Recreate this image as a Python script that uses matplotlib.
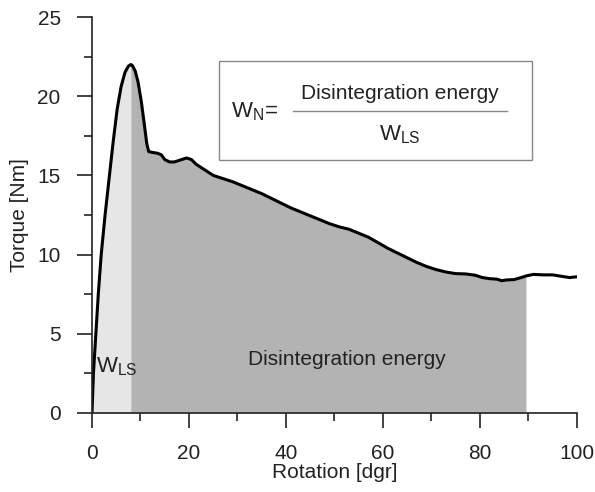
import numpy as np
import matplotlib.pyplot as plt
from matplotlib.ticker import MultipleLocator

plt.rcParams['font.family'] = ['Liberation Sans', 'DejaVu Sans']
plt.rcParams['mathtext.fontset'] = 'custom'
plt.rcParams['mathtext.rm'] = 'Liberation Sans'
plt.rcParams['mathtext.it'] = 'Liberation Sans'

rotation = np.array([0.0, 0.3, 0.8, 1.3, 1.9, 2.7, 3.6, 4.4, 5.2, 6.0, 6.8, 7.5, 8.0, 8.3,
                     8.9, 9.5, 10.2, 10.8, 11.3, 11.7, 12.5, 13.5, 14.3, 15.0, 16.0, 17.0,
                     18.0, 19.5, 20.5, 21.5, 23, 25, 27, 29, 31, 33, 35, 37, 39, 41, 43, 45,
                     47, 49, 51, 53, 55, 57, 59, 61, 63, 65, 67, 69, 71, 73, 75, 77, 79,
                     80.5, 82, 83.5, 84.5, 85.5, 87, 88.5, 89.5, 91, 93, 95, 97, 98.5, 100])
torque = np.array([0.0, 2.5, 5.0, 7.5, 10.0, 12.5, 15.0, 17.2, 19.2, 20.6, 21.5, 21.9, 22.0,
                   21.95, 21.6, 20.9, 19.6, 18.2, 17.0, 16.5, 16.45, 16.4, 16.3, 16.0, 15.85,
                   15.85, 15.95, 16.1, 16.0, 15.7, 15.4, 15.0, 14.8, 14.6, 14.35, 14.1, 13.85,
                   13.55, 13.25, 12.95, 12.7, 12.45, 12.2, 11.95, 11.75, 11.6, 11.35, 11.1,
                   10.75, 10.4, 10.1, 9.8, 9.5, 9.25, 9.05, 8.9, 8.8, 8.78, 8.7, 8.55, 8.48,
                   8.45, 8.35, 8.4, 8.42, 8.55, 8.65, 8.75, 8.72, 8.72, 8.62, 8.55, 8.6])

x_ls = 8.0     # end of W_LS region
x_end = 89.5   # end of disintegration energy region

fig = plt.figure(figsize=(5.95, 4.92), dpi=100)
ax = fig.add_axes([0.1546, 0.1606, 0.815, 0.8048])

m1 = rotation <= x_ls
m2 = (rotation >= x_ls) & (rotation <= x_end)
ax.fill_between(rotation[m1], torque[m1], color='#e6e6e6', lw=0)
ax.fill_between(rotation[m2], torque[m2], color='#b3b3b3', lw=0)
ax.plot(rotation, torque, color='black', lw=2.2, solid_joinstyle='round')

ax.set_xlim(0, 100)
ax.set_ylim(0, 25)
ax.xaxis.set_major_locator(MultipleLocator(20))
ax.xaxis.set_minor_locator(MultipleLocator(10))
ax.yaxis.set_major_locator(MultipleLocator(5))
ax.yaxis.set_minor_locator(MultipleLocator(2.5))
ax.tick_params(which='major', length=10.5, width=1.2, labelsize=15, color='#222222',
               labelcolor='#222222', pad=12)
ax.tick_params(which='minor', length=6, width=1.2, color='#222222')
ax.spines['top'].set_visible(False)
ax.spines['right'].set_visible(False)
for s in ['left', 'bottom']:
    ax.spines[s].set_linewidth(1.2)
    ax.spines[s].set_color('#222222')

ax.set_xlabel('Rotation [dgr]', fontsize=15, labelpad=0, color='#222222')
ax.set_ylabel('Torque [Nm]', fontsize=15, labelpad=6, color='#222222')

ax.text(0.8, 2.9, r'$\mathrm{W}_{\mathrm{LS}}$', fontsize=16, va='center', ha='left', color='#222222')
ax.text(52.5, 3.4, 'Disintegration energy', fontsize=15, va='center', ha='center', color='#222222')

# formula box
ax.add_patch(plt.Rectangle((26.2, 16.0), 64.5, 6.2, fill=False, ec='#888888', lw=1.0))
ax.text(28.6, 19.0, r'$\mathrm{W}_{\mathrm{N}}\!=$', fontsize=16, va='center', ha='left', color='#222222')
ax.plot([41.5, 85.5], [19.05, 19.05], color='#888888', lw=1.0)
ax.text(63.5, 20.2, 'Disintegration energy', fontsize=15, va='center', ha='center', color='#222222')
ax.text(63.5, 17.6, r'$\mathrm{W}_{\mathrm{LS}}$', fontsize=16, va='center', ha='center', color='#222222')

fig.savefig('out.png', dpi=100)
